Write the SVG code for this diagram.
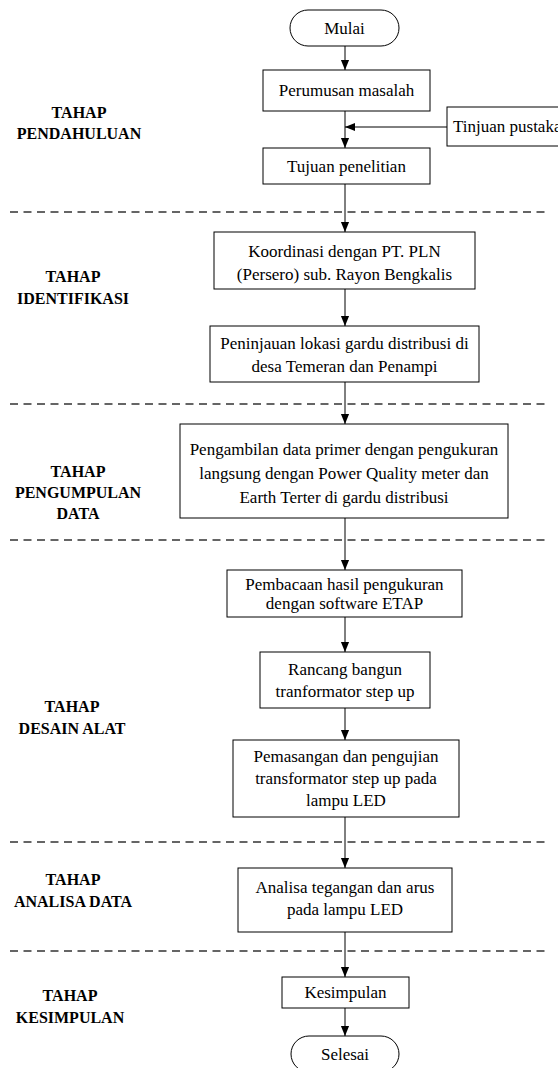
<svg xmlns="http://www.w3.org/2000/svg" width="558" height="1068" viewBox="0 0 558 1068">
<style>
.box{fill:#fff;stroke:#000;stroke-width:1}
.t{font-family:'Liberation Serif','Times New Roman',Tinos,'DejaVu Serif',serif;font-size:17px;fill:#000;text-anchor:middle}
.lbl{font-family:'Liberation Serif','Times New Roman',Tinos,'DejaVu Serif',serif;font-size:16px;font-weight:bold;fill:#000;text-anchor:middle}
.c{stroke:#000;stroke-width:1;fill:none;marker-end:url(#ah)}
.dash{stroke:#333;stroke-width:1.3;stroke-dasharray:8 5.5;fill:none}
</style>
<defs>
<marker id="ah" markerUnits="userSpaceOnUse" markerWidth="10" markerHeight="12" refX="11" refY="4.5" orient="auto" viewBox="0 0 11 9">
<path d="M0,0 L11,4.5 L0,9 Z" fill="#000"/>
</marker>
</defs>
<rect width="558" height="1068" fill="#fff"/>
<g id="separators">
<line class="dash" x1="10" y1="212" x2="545" y2="212"/>
<line class="dash" x1="10" y1="404" x2="545" y2="404"/>
<line class="dash" x1="10" y1="540" x2="545" y2="540"/>
<line class="dash" x1="10" y1="842" x2="545" y2="842"/>
<line class="dash" x1="10" y1="951" x2="545" y2="951"/>
</g>
<g id="labels">
<text class="lbl" x="79" y="118">TAHAP</text>
<text class="lbl" x="79" y="139">PENDAHULUAN</text>
<text class="lbl" x="73" y="282">TAHAP</text>
<text class="lbl" x="73" y="304">IDENTIFIKASI</text>
<text class="lbl" x="78" y="477">TAHAP</text>
<text class="lbl" x="78" y="498">PENGUMPULAN</text>
<text class="lbl" x="78" y="519">DATA</text>
<text class="lbl" x="72" y="712">TAHAP</text>
<text class="lbl" x="72" y="734">DESAIN ALAT</text>
<text class="lbl" x="73" y="885">TAHAP</text>
<text class="lbl" x="73" y="907">ANALISA DATA</text>
<text class="lbl" x="70" y="1001">TAHAP</text>
<text class="lbl" x="70" y="1023">KESIMPULAN</text>
</g>
<g id="connectors">
<line class="c" x1="345" y1="46" x2="345" y2="70"/>
<line class="c" x1="345" y1="111" x2="345" y2="148"/>
<line class="c" x1="447" y1="127" x2="345" y2="127"/>
<line class="c" x1="345" y1="184" x2="345" y2="232"/>
<line class="c" x1="345" y1="289" x2="345" y2="326"/>
<line class="c" x1="345" y1="382" x2="345" y2="424"/>
<line class="c" x1="345" y1="518" x2="345" y2="570"/>
<line class="c" x1="345" y1="617" x2="345" y2="652"/>
<line class="c" x1="345" y1="708" x2="345" y2="740"/>
<line class="c" x1="345" y1="817" x2="345" y2="868"/>
<line class="c" x1="345" y1="932" x2="345" y2="977"/>
<line class="c" x1="345" y1="1008" x2="345" y2="1036"/>
</g>
<g id="mulai">
<rect class="box" x="290" y="10" width="109" height="36" rx="18"/>
<text class="t" x="344.5" y="34">Mulai</text>
</g>
<g id="perumusan">
<rect class="box" x="263" y="70" width="167" height="41"/>
<text class="t" x="346.5" y="96">Perumusan masalah</text>
</g>
<g id="tinjuan">
<rect class="box" x="447" y="107" width="120" height="39"/>
<text class="t" x="453" y="132" style="text-anchor:start">Tinjuan pustaka</text>
</g>
<g id="tujuan">
<rect class="box" x="263" y="148" width="167" height="36"/>
<text class="t" x="346.5" y="172">Tujuan penelitian</text>
</g>
<g id="koordinasi">
<rect class="box" x="214" y="232" width="261" height="57"/>
<text class="t" x="344.5" y="257">Koordinasi dengan PT. PLN</text>
<text class="t" x="344.5" y="280">(Persero) sub. Rayon Bengkalis</text>
</g>
<g id="peninjauan">
<rect class="box" x="210" y="326" width="269" height="56"/>
<text class="t" x="344.5" y="349">Peninjauan lokasi gardu distribusi di</text>
<text class="t" x="344.5" y="372">desa Temeran dan Penampi</text>
</g>
<g id="pengambilan">
<rect class="box" x="180" y="424" width="328" height="94"/>
<text class="t" x="344" y="455">Pengambilan data primer dengan pengukuran</text>
<text class="t" x="344" y="479">langsung dengan Power Quality meter dan</text>
<text class="t" x="344" y="503">Earth Terter di gardu distribusi</text>
</g>
<g id="pembacaan">
<rect class="box" x="227" y="570" width="235" height="47"/>
<text class="t" x="344.5" y="590">Pembacaan hasil pengukuran</text>
<text class="t" x="344.5" y="609">dengan software ETAP</text>
</g>
<g id="rancang">
<rect class="box" x="260" y="652" width="170" height="56"/>
<text class="t" x="345" y="675">Rancang bangun</text>
<text class="t" x="345" y="697">tranformator step up</text>
</g>
<g id="pemasangan">
<rect class="box" x="233" y="740" width="226" height="77"/>
<text class="t" x="346" y="762">Pemasangan dan pengujian</text>
<text class="t" x="346" y="784">transformator step up pada</text>
<text class="t" x="346" y="806">lampu LED</text>
</g>
<g id="analisa">
<rect class="box" x="238" y="868" width="214" height="64"/>
<text class="t" x="345" y="893">Analisa tegangan dan arus</text>
<text class="t" x="345" y="915">pada lampu LED</text>
</g>
<g id="kesimpulan">
<rect class="box" x="282" y="977" width="127" height="31"/>
<text class="t" x="345.5" y="998">Kesimpulan</text>
</g>
<g id="selesai">
<rect class="box" x="291" y="1036" width="108" height="36" rx="18"/>
<text class="t" x="345" y="1060">Selesai</text>
</g>
</svg>
